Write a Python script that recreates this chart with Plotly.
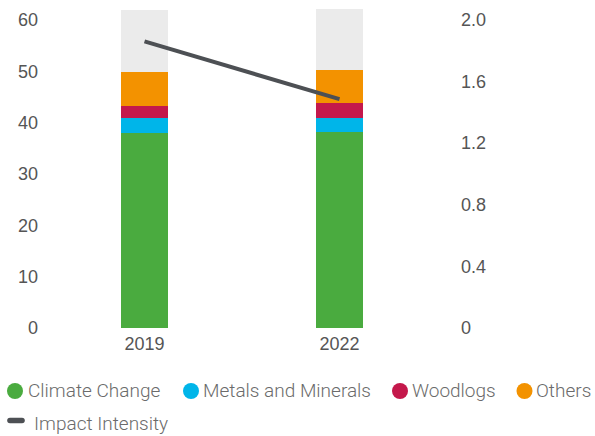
import plotly.graph_objects as go

years = ["2019", "2022"]
climate = [37.9, 38.2]
metals = [3.05, 2.75]
woodlogs = [2.35, 2.9]
others = [6.5, 6.45]
remainder = [12.2, 11.9]
intensity = [1.86, 1.485]

series_names = ["Climate Change", "Metals and Minerals", "Woodlogs", "Others"]
series_colors = ["#4aab3f", "#00b5e9", "#c4184b", "#f39200"]
series_values = [climate, metals, woodlogs, others]
line_name = "Impact Intensity"
line_color = "#4d5054"

W, H = 595, 436
L, R, T, B = 47, 158, 7, 108
pw, ph = W - L - R, H - T - B


def px(x):
    return (x - L) / pw


def py(y):
    return (H - B - y) / ph


fig = go.Figure()
for name, vals, col in zip(series_names, series_values, series_colors):
    fig.add_trace(go.Bar(x=years, y=vals, name=name, marker_color=col,
                         marker_line_width=0, width=0.236, showlegend=False))
fig.add_trace(go.Bar(x=years, y=remainder, name="", marker_color="#ebebeb",
                     marker_line_width=0, width=0.236, showlegend=False, hoverinfo="skip"))
fig.add_trace(go.Scatter(x=years, y=intensity, yaxis="y2", mode="lines",
                         line=dict(color=line_color, width=4), showlegend=False,
                         name=line_name))

# manual legend
shapes = []
annotations = []
row1 = [(15, 29), (191, 204), (400, 413), (524.5, 537)]
legend_font = dict(size=19, color="#6b6b6b", family="Roboto", weight=300)
for (cx, tx), name, col in zip(row1, series_names, series_colors):
    shapes.append(dict(type="circle", xref="paper", yref="paper",
                       xsizemode="pixel", ysizemode="pixel",
                       xanchor=px(cx), yanchor=py(391),
                       x0=-8, x1=8, y0=-8, y1=8,
                       fillcolor=col, line_width=0))
    annotations.append(dict(text=name, xref="paper", yref="paper", x=px(tx - 3), y=py(391),
                            xanchor="left", yanchor="middle", showarrow=False,
                            font=legend_font))
shapes.append(dict(type="path", xref="paper", yref="paper",
                   xsizemode="pixel", ysizemode="pixel",
                   xanchor=px(16), yanchor=py(420.5),
                   path="M -6,-2.8 L 6,-2.8 C 9.8,-2.8 9.8,2.8 6,2.8 L -6,2.8 C -9.8,2.8 -9.8,-2.8 -6,-2.8 Z",
                   fillcolor=line_color, line_width=0))
annotations.append(dict(text=line_name, xref="paper", yref="paper", x=px(32), y=py(423),
                        xanchor="left", yanchor="middle", showarrow=False,
                        font=legend_font))

tickfont = dict(size=18, family="Liberation Sans", color="#555555")
fig.update_layout(
    width=W, height=H,
    margin=dict(l=L, r=R, t=T, b=B),
    barmode="stack",
    plot_bgcolor="white", paper_bgcolor="white",
    showlegend=False,
    shapes=shapes, annotations=annotations,
    xaxis=dict(range=[-0.5, 1.5], showgrid=False, showline=False, zeroline=False,
               ticks="", automargin=False, ticklabelstandoff=3, tickfont=tickfont),
    yaxis=dict(range=[0, 62.5], tickvals=[0, 10, 20, 30, 40, 50, 60], showgrid=False,
               zeroline=False, showline=False, ticks="", ticklabelstandoff=8,
               automargin=False, tickfont=tickfont),
    yaxis2=dict(range=[0, 62.5 / 30], overlaying="y", side="right",
                tickvals=[0, 0.4, 0.8, 1.2, 1.6, 2.0],
                ticktext=["0", "0.4", "0.8", "1.2", "1.6", "2.0"],
                showgrid=False, zeroline=False, showline=False, ticks="",
                ticklabelstandoff=23, automargin=False, tickfont=tickfont),
)
fig.write_html("out.html")
